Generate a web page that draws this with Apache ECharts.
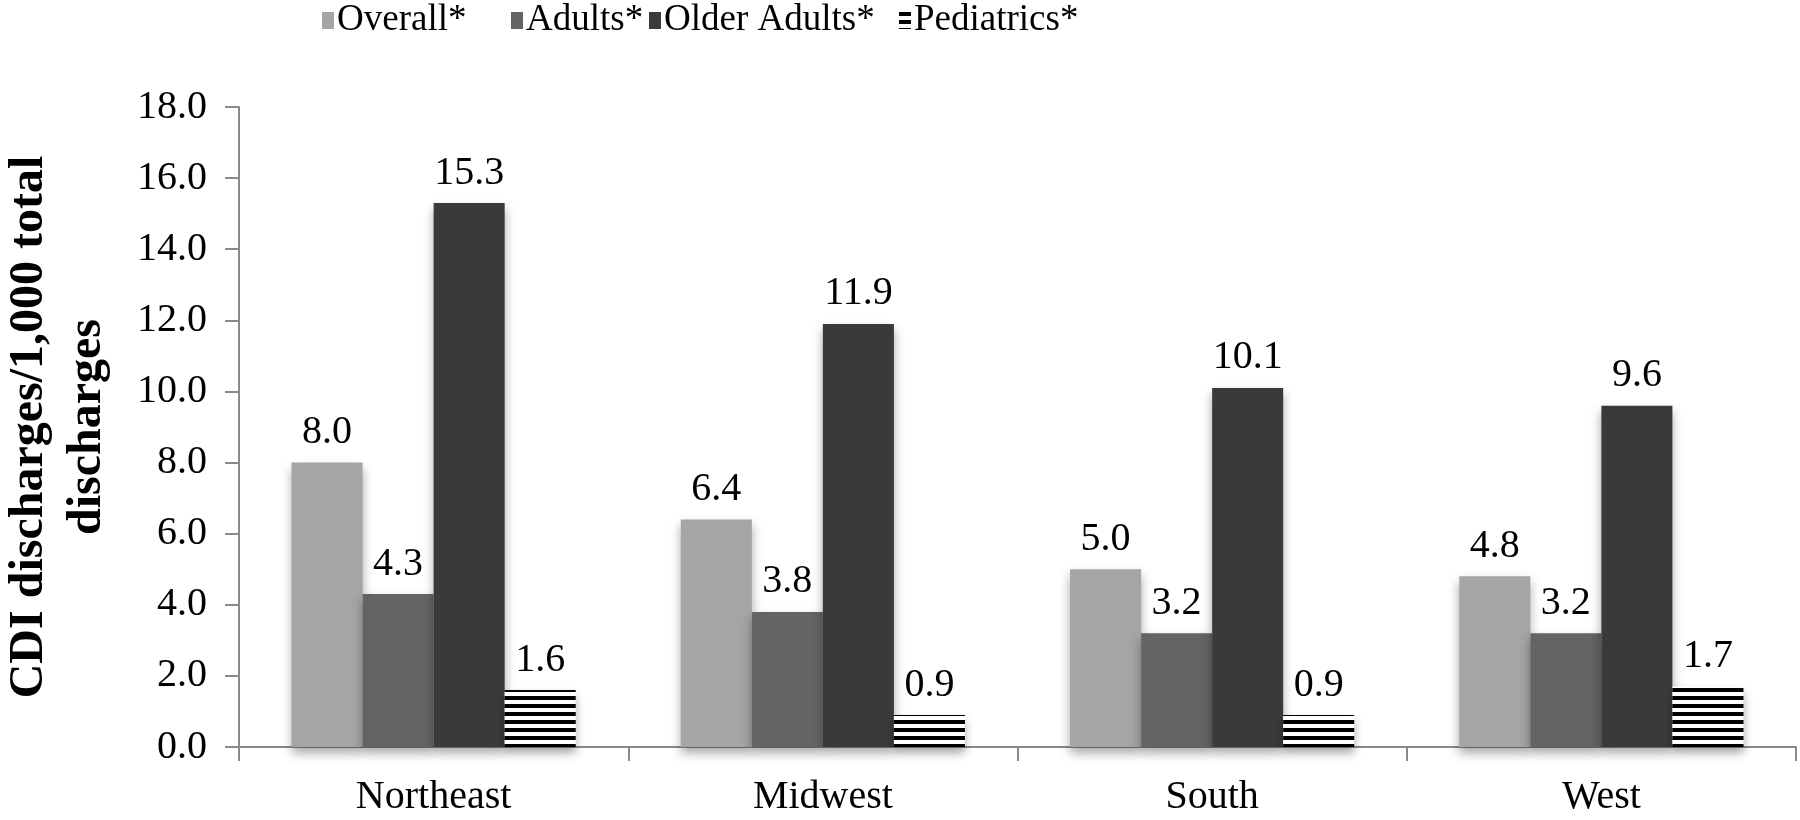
<!DOCTYPE html>
<html><head><meta charset="utf-8">
<script src="https://cdn.jsdelivr.net/npm/echarts@6/dist/echarts.min.js"></script>
<style>html,body{margin:0;padding:0;background:#fff}#c{width:1800px;height:820px}</style>
</head><body><div id="c"></div>
<script>
const categories = ['Northeast','Midwest','South','West'];
const overall = [8.0, 6.4, 5.0, 4.8];
const adults = [4.3, 3.8, 3.2, 3.2];
const olderAdults = [15.3, 11.9, 10.1, 9.6];
const pediatrics = [1.6, 0.9, 0.9, 1.7];
const seriesNames = ['Overall*','Adults*','Older Adults*','Pediatrics*'];
const legendLefts = [322, 511, 649, 899];

const pc = document.createElement('canvas');
pc.width = 8; pc.height = 8;
const g = pc.getContext('2d');
g.fillStyle = '#fff'; g.fillRect(0,0,8,8);
g.fillStyle = '#000'; g.fillRect(0,0,8,4);

const font = 'Liberation Serif';
const shadow = {shadowColor:'rgba(0,0,0,0.35)', shadowBlur:10, shadowOffsetY:6};
function mk(name, data, color){
  return {
    name, type:'bar', data,
    itemStyle: Object.assign({color}, shadow),
    label:{show:true, position:'top', distance:10, fontFamily:font, fontSize:40, color:'#000',
      formatter: p => p.value.toFixed(1)}
  };
}
const legends = seriesNames.map((n, i) => ({
  top:2, left:legendLefts[i], padding:0, itemWidth:12, itemHeight:17, itemGap:0,
  textStyle:{fontFamily:font, fontSize:37, color:'#000', padding:[0,0,0,-2]},
  icon:'rect', data:[n]
}));
const chart = echarts.init(document.getElementById('c'));
chart.setOption({
  animation:false,
  backgroundColor:'#fff',
  legend: legends,
  grid:{left:239, right:4, top:107, bottom:73, containLabel:false, outerBoundsMode:'none'},
  xAxis:{
    type:'category', data:categories,
    axisLine:{lineStyle:{color:'#8a8a8a', width:2}},
    axisTick:{show:true, length:14, lineStyle:{color:'#8a8a8a', width:2}},
    axisLabel:{fontFamily:font, fontSize:40, color:'#000', margin:30}
  },
  yAxis:{
    type:'value', min:0, max:18, interval:2,
    name:'CDI discharges/1,000 total\ndischarges',
    nameLocation:'middle', nameGap:122,
    nameTextStyle:{fontFamily:font, fontSize:48, fontWeight:'bold', color:'#000', lineHeight:58},
    axisLine:{show:true, lineStyle:{color:'#8a8a8a', width:2}},
    axisTick:{show:true, length:14, lineStyle:{color:'#8a8a8a', width:2}},
    splitLine:{show:false},
    axisLabel:{fontFamily:font, fontSize:40, color:'#000', margin:32, formatter: v => v.toFixed(1)}
  },
  series:[
    Object.assign(mk(seriesNames[0], overall, '#a5a5a5'), {barCategoryGap:'27%', barGap:'0%'}),
    mk(seriesNames[1], adults, '#646464'),
    mk(seriesNames[2], olderAdults, '#3a3a3a'),
    mk(seriesNames[3], pediatrics, {image:pc, repeat:'repeat'})
  ]
});
</script></body></html>
